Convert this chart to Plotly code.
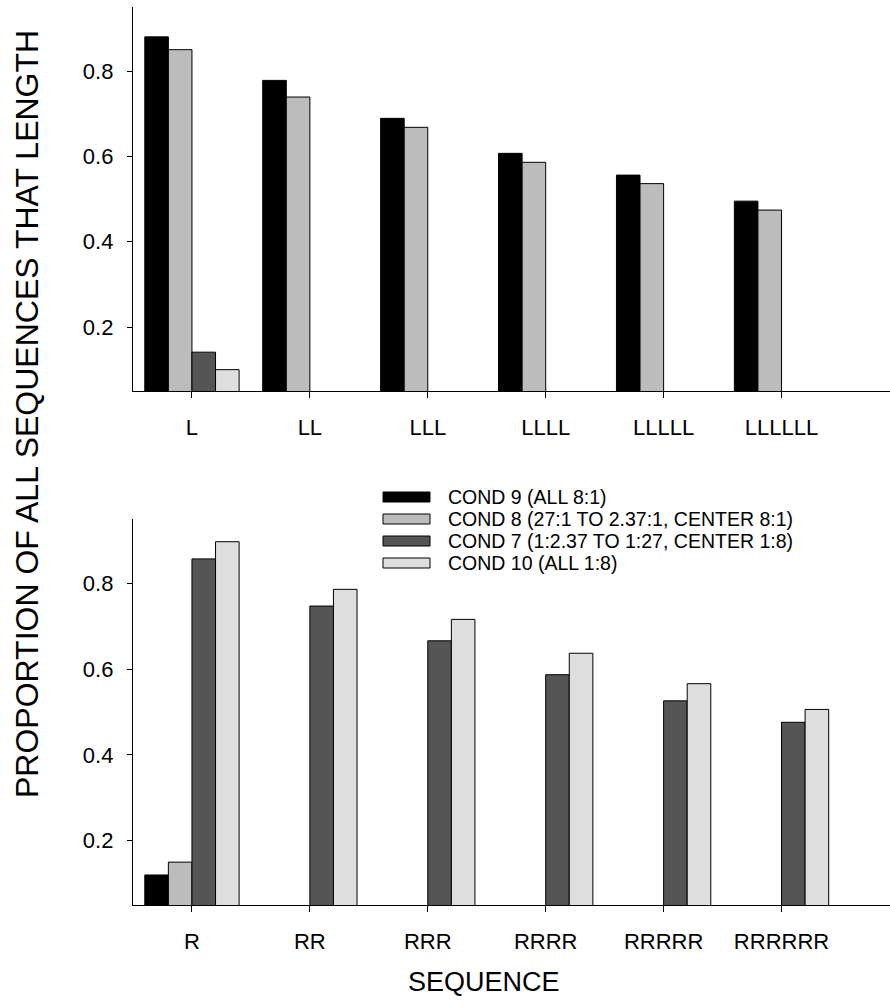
import plotly.graph_objects as go

W, H = 890, 1005

top_categories = ["L", "LL", "LLL", "LLLL", "LLLLL", "LLLLLL"]
bottom_categories = ["R", "RR", "RRR", "RRRR", "RRRRR", "RRRRRR"]
series_names = [
    "COND 9 (ALL 8:1)",
    "COND 8 (27:1 TO 2.37:1, CENTER 8:1)",
    "COND 7 (1:2.37 TO 1:27, CENTER 1:8)",
    "COND 10 (ALL 1:8)",
]

top_cond9 = [0.880, 0.778, 0.689, 0.607, 0.556, 0.495]
top_cond8 = [0.850, 0.739, 0.668, 0.586, 0.536, 0.474]
top_cond7 = [0.141, None, None, None, None, None]
top_cond10 = [0.100, None, None, None, None, None]

bottom_cond9 = [0.120, None, None, None, None, None]
bottom_cond8 = [0.150, None, None, None, None, None]
bottom_cond7 = [0.857, 0.747, 0.666, 0.587, 0.526, 0.476]
bottom_cond10 = [0.897, 0.786, 0.716, 0.637, 0.566, 0.506]

y_tick_values = [0.2, 0.4, 0.6, 0.8]
y_tick_labels = ["0.2", "0.4", "0.6", "0.8"]

fills = ["#000000", "#bcbcbc", "#555555", "#dedede"]
FONT = "Liberation Sans, Arial, Helvetica, sans-serif"

fig = go.Figure()

top_series = [top_cond9, top_cond8, top_cond7, top_cond10]
bottom_series = [bottom_cond9, bottom_cond8, bottom_cond7, bottom_cond10]

for i, vals in enumerate(top_series):
    fig.add_trace(go.Bar(
        x=list(range(len(top_categories))), y=vals, name=series_names[i],
        marker=dict(color=fills[i], line=dict(color="#000000", width=1)),
        xaxis="x", yaxis="y", offsetgroup=str(i), showlegend=False,
    ))
for i, vals in enumerate(bottom_series):
    fig.add_trace(go.Bar(
        x=list(range(len(bottom_categories))), y=vals, name=series_names[i],
        marker=dict(color=fills[i], line=dict(color="#000000", width=1)),
        xaxis="x2", yaxis="y2", offsetgroup=str(i), showlegend=False,
    ))

def px_x(p):
    return p / W

def px_y(p):
    return (H - p) / H

xdom = [px_x(133), 1.0]
axis_common = dict(
    showline=True, linecolor="#000000", linewidth=1.3, mirror=False,
    ticks="outside", tickcolor="#000000", showgrid=False, zeroline=False,
    tickfont=dict(family=FONT, size=22, color="#000000"),
)

fig.update_layout(
    width=W, height=H,
    margin=dict(l=0, r=0, t=0, b=0),
    paper_bgcolor="white", plot_bgcolor="white",
    barmode="group", bargap=0.2, bargroupgap=0.0,
    showlegend=False,
    xaxis=dict(domain=xdom, anchor="y", range=[-0.5, 5.92],
               tickmode="array", tickvals=list(range(len(top_categories))),
               ticktext=top_categories, ticklen=6, ticklabelstandoff=10, **axis_common),
    yaxis=dict(domain=[px_y(391), px_y(7)], anchor="x", range=[0.05, 0.95],
               tickmode="array", tickvals=y_tick_values, ticktext=y_tick_labels,
               ticklen=5, ticklabelstandoff=9, **axis_common),
    xaxis2=dict(domain=xdom, anchor="y2", range=[-0.5, 5.92],
                tickmode="array", tickvals=list(range(len(bottom_categories))),
                ticktext=bottom_categories, ticklen=6, ticklabelstandoff=10, **axis_common),
    yaxis2=dict(domain=[px_y(905), px_y(519)], anchor="x2", range=[0.05, 0.95],
                tickmode="array", tickvals=y_tick_values, ticktext=y_tick_labels,
                ticklen=5, ticklabelstandoff=9, **axis_common),
)

# manual legend
row_y = [497, 519, 541, 563]
shapes = []
annotations = []
for i, name in enumerate(series_names):
    yc = row_y[i]
    shapes.append(dict(type="rect", xref="paper", yref="paper",
                       x0=px_x(383), x1=px_x(430), y0=px_y(yc + 5), y1=px_y(yc - 5),
                       fillcolor=fills[i], line=dict(color="#000000", width=1)))
    annotations.append(dict(xref="paper", yref="paper", x=px_x(446), y=px_y(yc),
                            xanchor="left", yanchor="middle", showarrow=False,
                            text=name, font=dict(family=FONT, size=19.5, color="#000000")))

annotations.append(dict(xref="paper", yref="paper", x=px_x(27), y=px_y(414),
                        xanchor="center", yanchor="middle", showarrow=False, textangle=-90,
                        text="PROPORTION OF ALL SEQUENCES THAT LENGTH",
                        font=dict(family=FONT, size=32, color="#000000")))
annotations.append(dict(xref="paper", yref="paper", x=px_x(484), y=px_y(982),
                        xanchor="center", yanchor="middle", showarrow=False,
                        text="SEQUENCE",
                        font=dict(family=FONT, size=27, color="#000000")))

fig.update_layout(shapes=shapes, annotations=annotations)
fig.write_html("out.html")
